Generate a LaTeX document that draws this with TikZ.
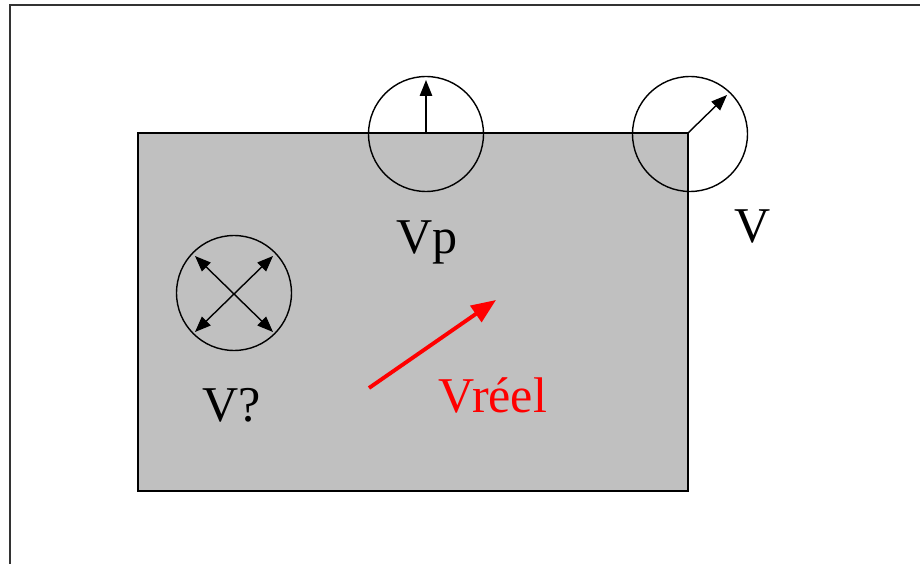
\documentclass[tikz,border=0pt]{standalone}
\usepackage{fontspec}
\setmainfont{Liberation Serif}
\usetikzlibrary{arrows.meta}
\definecolor{plate}{HTML}{C0C0C0}

\begin{document}
\begin{tikzpicture}[x=0.02cm, y=-0.02cm,
    wheel/.style={draw, circle, line width=0.8pt, minimum size=2.3cm, inner sep=0pt},
    tip/.style={Triangle[length=9pt, width=7pt]},
    vec/.style={line width=0.8pt, -{Triangle[length=9pt, width=7pt]}},
    label/.style={font=\fontsize{28.5}{30}\selectfont, inner sep=0pt}]
  \useasboundingbox (0,0) rectangle (920,564);
  % frame
  \draw[line width=1.2pt, black!80] (10,564) -- (10,5) -- (920,5);
  % plate
  \draw[fill=plate, line width=0.8pt] (138,133) rectangle (688,491);
  \coordinate (corner) at (688,133);
  % wheels
  \node[wheel] (vq) at (234,293) {};
  \node[wheel] (vp) at (426,134) {};
  \node[wheel] (v) at (690,134) {};
  \coordinate (vptip) at (426,80);
  \coordinate (vtip) at (727,95);
  \coordinate (qa) at (195,256);
  \coordinate (qb) at (273,332);
  \coordinate (qc) at (273,256);
  \coordinate (qd) at (195,332);
  \draw[vec] (vp.center) -- (vptip);
  \draw[vec] (corner) -- (vtip);
  \draw[vec, {Triangle[length=9pt, width=7pt]}-{Triangle[length=9pt, width=7pt]}] (qa) -- (qb);
  \draw[vec, {Triangle[length=9pt, width=7pt]}-{Triangle[length=9pt, width=7pt]}] (qc) -- (qd);
  % labels
  \node[label] (lvp) at (427,242) {Vp};
  \node[label] (lv) at (753,226) {V};
  \node[label] (lvq) at (232,405) {V?};
  \node[label, text=red] (lvr) at (493,395) {Vréel};
  % real speed
  \coordinate (rs) at (369,388);
  \coordinate (re) at (496,300);
  \draw[red, line width=2.2pt, -{Triangle[length=14pt, width=11pt]}] (rs) -- (re);
\end{tikzpicture}
\end{document}
